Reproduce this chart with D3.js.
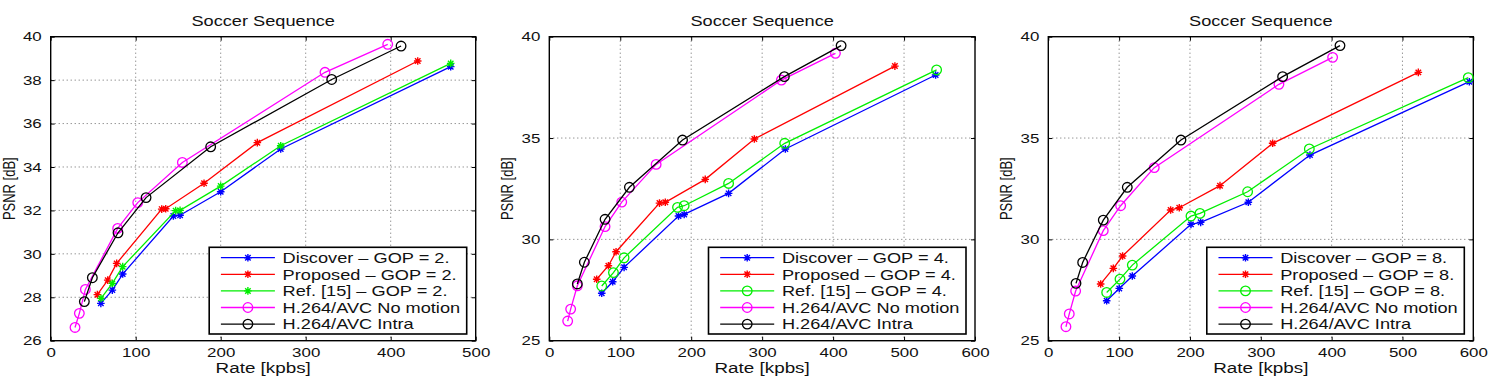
<!DOCTYPE html>
<html lang="en">
<head>
    <meta charset="UTF-8">
    <title>Soccer Sequence RD curves</title>
    <style>
        body { margin: 0; background: #fff; }
        svg { display: block; }
        text { font-family: "Liberation Sans", Arial, Helvetica, sans-serif; fill: #111; }
        .grid line { stroke: #444; stroke-width: 0.8; stroke-dasharray: 1 3; }
        .axis path, .axis line { stroke: #000; stroke-width: 1; }
    </style>
</head>
<body>
    <div id="chart"></div>

    <script src="https://d3js.org/d3.v7.min.js"></script>
    <script>
        // values: [rate kbps, PSNR dB]
        // GOP = 2
        const gop2Discover = [[59, 27.72], [72.5, 28.33], [84.7, 29.07], [144.3, 31.74], [152.2, 31.78], [200, 32.86], [270.6, 34.83], [470.6, 38.62]];
        const gop2Proposed = [[54.9, 28.12], [67.1, 28.79], [77.6, 29.56], [130.6, 32.06], [135.3, 32.08], [180.4, 33.25], [243.1, 35.12], [431.8, 38.88]];
        const gop2Ref15 = [[59.2, 27.95], [72.5, 28.64], [84.7, 29.41], [147, 31.99], [152.2, 32.0], [200, 33.12], [270.6, 34.98], [470.6, 38.77]];
        const gop2NoMotion = [[28.6, 26.61], [33.7, 27.26], [40.8, 28.36], [78.8, 31.17], [102.4, 32.36], [154.9, 34.21], [322.7, 38.36], [396.5, 39.65]];
        const gop2Intra = [[39.6, 27.8], [49, 28.9], [79.2, 30.97], [112.2, 32.59], [188.2, 34.93], [330.6, 38.03], [412.2, 39.57]];

        // GOP = 4
        const gop4Discover = [[73.9, 27.34], [89.4, 27.91], [105.4, 28.62], [182.1, 31.15], [190.1, 31.23], [252.7, 32.27], [332.7, 34.46], [544.5, 38.11]];
        const gop4Proposed = [[66.8, 28.03], [83.3, 28.7], [94.1, 29.39], [155.3, 31.79], [163.5, 31.83], [219.8, 32.96], [289, 34.95], [487.1, 38.55]];
        const gop4Ref15 = [[73.9, 27.7], [90.4, 28.36], [105.4, 29.09], [180.7, 31.58], [190.1, 31.66], [252.7, 32.76], [331.8, 34.74], [545.9, 38.36]];
        const gop4NoMotion = [[25.9, 25.97], [30.1, 26.56], [39.5, 27.71], [78.6, 30.63], [102.1, 31.84], [150.6, 33.7], [327.1, 37.86], [403.3, 39.18]];
        const gop4Intra = [[39.5, 27.8], [49.4, 28.87], [78.6, 30.99], [112.9, 32.57], [187.8, 34.9], [331.3, 38.03], [411.3, 39.56]];

        // GOP = 8
        const gop8Discover = [[82.4, 26.97], [100.2, 27.58], [118.6, 28.19], [201.4, 30.74], [215.1, 30.84], [282.4, 31.83], [369.4, 34.16], [594.4, 37.78]];
        const gop8Proposed = [[73.9, 27.8], [91.8, 28.57], [104.9, 29.18], [172.7, 31.45], [184.9, 31.56], [242.4, 32.65], [316.7, 34.74], [522.4, 38.24]];
        const gop8Ref15 = [[82.4, 27.38], [101.2, 28.04], [118.6, 28.73], [201.4, 31.15], [214.1, 31.28], [281.4, 32.35], [368.5, 34.46], [592.9, 37.98]];
        const gop8NoMotion = [[24.9, 25.69], [29.6, 26.32], [38.6, 27.45], [77.6, 30.43], [102.1, 31.66], [149.6, 33.54], [325.6, 37.65], [401.4, 38.98]];
        const gop8Intra = [[39.1, 27.83], [48.5, 28.86], [77.6, 30.95], [111.5, 32.57], [187.3, 34.9], [330.8, 38.03], [411.8, 39.56]];

        const xTicks1 = [0, 100, 200, 300, 400, 500];
        const xTicks23 = [0, 100, 200, 300, 400, 500, 600];
        const yTicks1 = [26, 28, 30, 32, 34, 36, 38, 40];
        const yTicks23 = [25, 30, 35, 40];

        const panels = [
            { left: 50.7, right: 475.7, xMax: 500, yMin: 26, xTicks: xTicks1, yTicks: yTicks1, gop: 2, refMarker: 'star',
              series: [gop2Discover, gop2Proposed, gop2Ref15, gop2NoMotion, gop2Intra] },
            { left: 549.3, right: 975, xMax: 600, yMin: 25, xTicks: xTicks23, yTicks: yTicks23, gop: 4, refMarker: 'circle',
              series: [gop4Discover, gop4Proposed, gop4Ref15, gop4NoMotion, gop4Intra] },
            { left: 1048.3, right: 1473.3, xMax: 600, yMin: 25, xTicks: xTicks23, yTicks: yTicks23, gop: 8, refMarker: 'circle',
              series: [gop8Discover, gop8Proposed, gop8Ref15, gop8NoMotion, gop8Intra] }
        ];

        const colors = ['#0000ff', '#ff0000', '#00ee00', '#ff00ff', '#000000'];
        const plotTop = 36.7, plotBottom = 340.7;
        const SX = 1.3; // text in the picture is stretched horizontally

        const svg = d3.select('#chart').append('svg')
            .attr('width', 1492)
            .attr('height', 387);

        function drawMarker(g, type, cx, cy, color) {
            if (type === 'circle') {
                g.append('circle')
                    .attr('cx', cx).attr('cy', cy).attr('r', 4.8)
                    .attr('fill', 'none').attr('stroke', color).attr('stroke-width', 1.3);
            } else {
                const r = 3.8, d = r * 0.72;
                g.append('path')
                    .attr('d', `M${cx - r},${cy}H${cx + r}M${cx},${cy - r}V${cy + r}` +
                               `M${cx - d},${cy - d}L${cx + d},${cy + d}M${cx - d},${cy + d}L${cx + d},${cy - d}`)
                    .attr('stroke', color).attr('stroke-width', 1.4).attr('fill', 'none');
            }
        }

        panels.forEach(p => {
            const x = d3.scaleLinear().domain([0, p.xMax]).range([p.left, p.right]);
            const y = d3.scaleLinear().domain([p.yMin, 40]).range([plotBottom, plotTop]);
            const g = svg.append('g');

            // grid
            const grid = g.append('g').attr('class', 'grid');
            grid.selectAll('.gx').data(p.xTicks.slice(1, -1)).enter().append('line')
                .attr('x1', d => x(d)).attr('x2', d => x(d)).attr('y1', plotTop).attr('y2', plotBottom);
            grid.selectAll('.gy').data(p.yTicks.slice(1, -1)).enter().append('line')
                .attr('y1', d => y(d)).attr('y2', d => y(d)).attr('x1', p.left).attr('x2', p.right);

            // axes (ticks inward on all four sides)
            const xa = g.append('g').attr('class', 'axis').attr('transform', `translate(0,${plotBottom})`)
                .call(d3.axisBottom(x).tickValues(p.xTicks).tickSizeInner(-4).tickSizeOuter(0).tickPadding(7));
            xa.selectAll('text').attr('font-size', 13).attr('transform', `scale(${SX},1)`);
            const ya = g.append('g').attr('class', 'axis').attr('transform', `translate(${p.left},0)`)
                .call(d3.axisLeft(y).tickValues(p.yTicks).tickSizeInner(-4).tickSizeOuter(0));
            ya.selectAll('text').attr('font-size', 13).attr('x', -9 / SX).attr('transform', `scale(${SX},1)`);
            g.append('g').attr('class', 'axis').attr('transform', `translate(0,${plotTop})`)
                .call(d3.axisTop(x).tickValues(p.xTicks).tickSizeInner(-4).tickSizeOuter(0).tickFormat(''));
            g.append('g').attr('class', 'axis').attr('transform', `translate(${p.right},0)`)
                .call(d3.axisRight(y).tickValues(p.yTicks).tickSizeInner(-4).tickSizeOuter(0).tickFormat(''));
            g.selectAll('.axis .domain').remove();
            g.append('rect')
                .attr('x', p.left).attr('y', plotTop)
                .attr('width', p.right - p.left).attr('height', plotBottom - plotTop)
                .attr('fill', 'none').attr('stroke', '#000').attr('stroke-width', 1.4);

            // series
            const markers = ['star', 'star', p.refMarker, 'circle', 'circle'];
            const line = d3.line().x(d => x(d[0])).y(d => y(d[1]));
            p.series.forEach((s, i) => {
                g.append('path').datum(s)
                    .attr('d', line)
                    .attr('fill', 'none').attr('stroke', colors[i]).attr('stroke-width', 1.3);
                s.forEach(d => drawMarker(g, markers[i], x(d[0]), y(d[1]), colors[i]));
            });

            // titles
            const cx = (p.left + p.right) / 2;
            g.append('text').attr('transform', `translate(${cx},26) scale(${SX},1)`)
                .attr('text-anchor', 'middle').attr('font-size', 14).text('Soccer Sequence');
            g.append('text').attr('transform', `translate(${cx},373) scale(${SX},1)`)
                .attr('text-anchor', 'middle').attr('font-size', 14.5).text('Rate [kpbs]');
            g.append('text').attr('transform', `translate(${p.left - 36},${(plotTop + plotBottom) / 2}) scale(${SX},1) rotate(-90)`)
                .attr('text-anchor', 'middle').attr('font-size', 13).text('PSNR [dB]');

            // legend
            const labels = [`Discover \u2013 GOP = ${p.gop}.`, `Proposed \u2013 GOP = ${p.gop}.`,
                            `Ref. [15] \u2013 GOP = ${p.gop}.`, 'H.264/AVC No motion', 'H.264/AVC Intra'];
            const lx = p.right - 266.5, ly = 247.3;
            const lg = g.append('g');
            lg.append('rect').attr('x', lx).attr('y', ly).attr('width', 257.5).attr('height', 86.7)
                .attr('fill', '#fff').attr('stroke', '#000').attr('stroke-width', 1.6);
            labels.forEach((t, i) => {
                const yy = ly + 10.4 + i * 16.6;
                lg.append('line').attr('x1', lx + 11.7).attr('x2', lx + 65.7).attr('y1', yy).attr('y2', yy)
                    .attr('stroke', colors[i]).attr('stroke-width', 1.3);
                drawMarker(lg, markers[i], lx + 38.7, yy, colors[i]);
                lg.append('text').attr('transform', `translate(${lx + 73.4},${yy + 5.2}) scale(${SX},1)`)
                    .attr('font-size', 14).text(t);
            });
        });
    </script>
</body>
</html>
